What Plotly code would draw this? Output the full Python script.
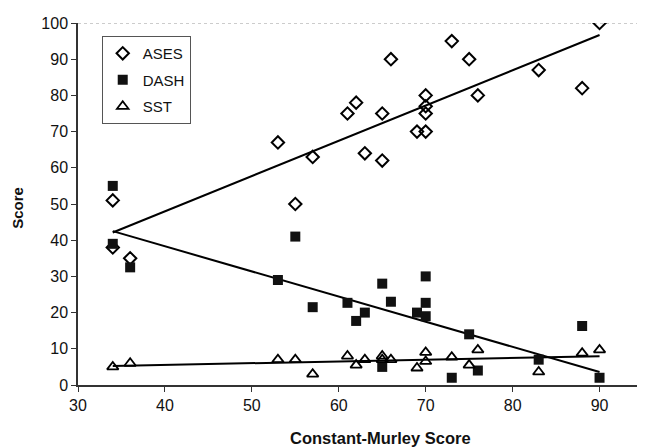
import numpy as np
import plotly.graph_objects as go

# ASES (open diamonds)
ases_x = [34, 34, 36, 53, 55, 57, 61, 62, 63, 65, 65, 66, 69, 70, 70, 70, 70, 73, 75, 76, 83, 88, 90]
ases_y = [51, 38, 35, 67, 50, 63, 75, 78, 64, 75, 62, 90, 70, 80, 77, 75, 70, 95, 90, 80, 87, 82, 100]

# DASH (filled squares)
dash_x = [34, 34, 36, 53, 55, 57, 61, 62, 63, 65, 65, 66, 69, 70, 70, 70, 73, 75, 76, 83, 88, 90]
dash_y = [55, 39, 32.5, 29, 41, 21.5, 22.7, 17.7, 20, 28, 5, 23, 20, 19, 30, 22.7, 2, 14, 4, 7, 16.3, 2]

# SST (open triangles)
sst_x = [34, 36, 53, 55, 57, 61, 62, 63, 65, 65, 66, 69, 70, 70, 73, 75, 76, 83, 88, 90]
sst_y = [5, 6, 7, 7, 3, 8, 5.5, 7, 8, 7, 7, 4.7, 9, 6.5, 7.7, 5.5, 9.7, 3.6, 8.8, 9.7]

x_ticks = [30, 40, 50, 60, 70, 80, 90]
y_ticks = [0, 10, 20, 30, 40, 50, 60, 70, 80, 90, 100]

FONT = "Arial, Liberation Sans, sans-serif"

fig = go.Figure()

series = [
    ("ASES", ases_x, ases_y, dict(symbol="diamond-open", size=9.5, color="black", line=dict(width=2, color="black"))),
    ("DASH", dash_x, dash_y, dict(symbol="square", size=10, color="#111111", line=dict(width=0))),
    ("SST", sst_x, sst_y, dict(symbol="triangle-up-open", size=10, color="black", line=dict(width=1.8, color="black"))),
]

for name, xs, ys, mk in series:
    xs_a = np.array(xs, dtype=float)
    ys_a = np.array(ys, dtype=float)
    slope, intercept = np.polyfit(xs_a, ys_a, 1)
    lx = np.array([xs_a.min(), xs_a.max()])
    fig.add_trace(go.Scatter(x=lx, y=slope * lx + intercept, mode="lines",
                             line=dict(color="black", width=2), showlegend=False,
                             hoverinfo="skip", legendgroup=name + "_fit"))

for name, xs, ys, mk in series:
    fig.add_trace(go.Scatter(x=xs, y=ys, mode="markers", name=name, marker=mk,
                             legendgroup=name))

fig.add_shape(type="line", xref="paper", yref="y", x0=0, x1=1, y0=100, y1=100,
              line=dict(color="#999999", width=1, dash="dot"), layer="below")

fig.add_annotation(text="<b>Constant-Murley Score</b>", xref="paper", yref="paper",
                   x=0.536, y=-0.146, xanchor="center", yanchor="middle", showarrow=False,
                   font=dict(family=FONT, size=16.5, color="#111111"))
fig.add_annotation(text="<b>Score</b>", xref="paper", yref="paper", textangle=-90,
                   x=-0.106, y=0.49, xanchor="center", yanchor="middle", showarrow=False,
                   font=dict(family=FONT, size=15, color="#111111"))

# page body has an 8px default margin, so the figure is 8px smaller and shifted
fig.update_layout(
    width=637, height=440,
    margin=dict(l=70, r=2, t=15, b=63, autoexpand=False),
    paper_bgcolor="white", plot_bgcolor="white",
    font=dict(family=FONT, size=16, color="#111111"),
    showlegend=True,
    legend=dict(x=0.042, y=0.964, xanchor="left", yanchor="top",
                bordercolor="#555555", borderwidth=1, bgcolor="white",
                font=dict(family=FONT, size=15, color="#111111"),
                tracegroupgap=4, itemwidth=30),
    xaxis=dict(range=[30, 95], tickvals=x_ticks, ticks="outside", ticklen=5,
               tickcolor="#333333", showline=True, linecolor="#333333", linewidth=1.5,
               showgrid=False, zeroline=False, tickfont=dict(size=16), automargin=False),
    yaxis=dict(range=[0, 100], tickvals=y_ticks, ticks="outside", ticklen=5,
               tickcolor="#333333", showline=True, linecolor="#333333", linewidth=1.5,
               showgrid=False, zeroline=False, tickfont=dict(size=16), automargin=False),
)

fig.write_html("out.html")
